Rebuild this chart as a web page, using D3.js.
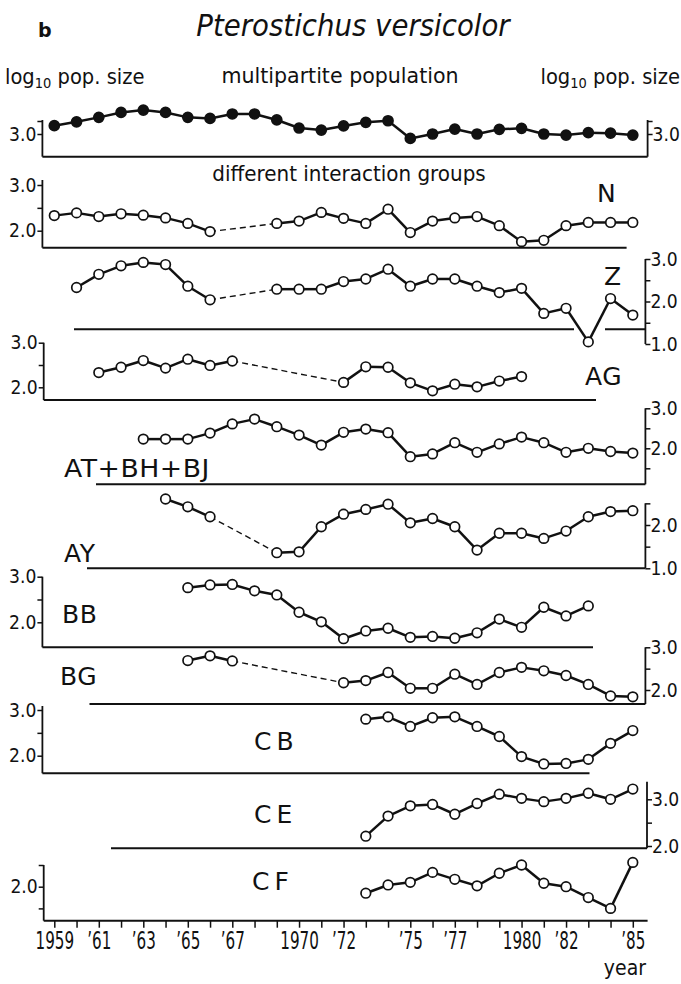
<!DOCTYPE html>
<html>
<head>
<meta charset="utf-8">
<script src="https://cdn.jsdelivr.net/npm/d3@7"></script>
<style>
  body { margin: 0; background: #fff; }
  svg { display: block; }
  text { font-family: "DejaVu Sans", sans-serif; fill: #111; }
</style>
</head>
<body>
<script>
// years on the x axis, one value per year (null = not sampled)
const years = [1959, 1960, 1961, 1962, 1963, 1964, 1965, 1966, 1967, 1968, 1969, 1970, 1971,
               1972, 1973, 1974, 1975, 1976, 1977, 1978, 1979, 1980, 1981, 1982, 1983, 1984, 1985];
const xLabelYears = [1959, 1961, 1963, 1965, 1967, 1970, 1972, 1975, 1977, 1980, 1982, 1985];
const xLabelTexts = ["1959", "\u201961", "\u201963", "\u201965", "\u201967", "1970", "\u201972",
                     "\u201975", "\u201977", "1980", "\u201982", "\u201985"];

const multipartite = [3.32, 3.47, 3.64, 3.83, 3.92, 3.83, 3.64, 3.60, 3.77, 3.77, 3.54, 3.23, 3.15,
                      3.31, 3.45, 3.51, 2.83, 3.00, 3.19, 3.00, 3.18, 3.22, 3.00, 2.96, 3.05, 3.03, 2.96];
const groupN  = [2.33, 2.39, 2.31, 2.37, 2.34, 2.28, 2.16, 1.98, null, null, 2.16, 2.21, 2.40,
                 2.27, 2.16, 2.47, 1.96, 2.21, 2.28, 2.31, 2.11, 1.76, 1.79, 2.11, 2.18, 2.18, 2.18];
const groupZ  = [null, 2.33, 2.64, 2.84, 2.92, 2.87, 2.36, 2.04, null, null, 2.29, 2.29, 2.29,
                 2.47, 2.53, 2.76, 2.36, 2.53, 2.53, 2.36, 2.21, 2.31, 1.72, 1.84, 1.05, 2.07, 1.68];
const groupAG = [null, null, 2.33, 2.45, 2.60, 2.43, 2.63, 2.49, 2.59, null, null, null, null,
                 2.11, 2.46, 2.45, 2.10, 1.92, 2.07, 2.01, 2.14, 2.24, null, null, null, null, null];
const groupAT = [null, null, null, null, 2.23, 2.23, 2.23, 2.38, 2.61, 2.73, 2.54, 2.33, 2.08,
                 2.40, 2.48, 2.39, 1.79, 1.86, 2.14, 1.90, 2.11, 2.28, 2.14, 1.90, 2.00, 1.92, 1.88];
const groupAY = [null, null, null, null, null, 2.60, 2.42, 2.19, null, null, 1.36, 1.38, 1.96,
                 2.25, 2.36, 2.48, 2.05, 2.15, 1.96, 1.42, 1.81, 1.81, 1.69, 1.86, 2.19, 2.31, 2.33];
const groupBB = [null, null, null, null, null, null, 2.76, 2.82, 2.83, 2.69, 2.60, 2.22, 2.01,
                 1.64, 1.81, 1.87, 1.67, 1.69, 1.65, 1.77, 2.07, 1.89, 2.33, 2.14, 2.36, null, null];
const groupBG = [null, null, null, null, null, null, 2.69, 2.80, 2.68, null, null, null, null,
                 2.17, 2.22, 2.41, 2.04, 2.04, 2.37, 2.13, 2.41, 2.53, 2.45, 2.34, 2.13, 1.86, 1.84];
const groupCB = [null, null, null, null, null, null, null, null, null, null, null, null, null,
                 null, 2.80, 2.85, 2.64, 2.83, 2.85, 2.64, 2.42, 1.98, 1.82, 1.83, 1.92, 2.27, 2.55];
const groupCE = [null, null, null, null, null, null, null, null, null, null, null, null, null,
                 null, 2.21, 2.64, 2.86, 2.89, 2.68, 2.91, 3.11, 3.02, 2.95, 3.02, 3.13, 3.00, 3.22];
const groupCF = [null, null, null, null, null, null, null, null, null, null, null, null, null,
                 null, 1.85, 2.04, 2.10, 2.33, 2.17, 2.02, 2.31, 2.50, 2.08, 2.00, 1.75, 1.50, 2.56];

const W = 681, H = 984;
const svg = d3.select("body").append("svg").attr("width", W).attr("height", H);

const x = d3.scaleLinear().domain([1959, 1985]).range([54.3, 632.8]);

// layout of each strip: y scale anchors, axis side, frame extents
const panels = [
  { name: "", values: multipartite, filled: true, side: "both", ax: 42.4, ax2: 647.6,
    dom: [3.0, 3.5], rng: [134, 121], ticks: [3.0, 3.5], labeled: [3.0],
    top: 120, bottom: 156.7, base: [[42.4, 647.6]] },
  { name: "N", values: groupN, side: "left", ax: 42.4, dom: [3.0, 2.0], rng: [185, 230.7],
    ticks: [2.0, 2.5, 3.0], labeled: [2.0, 3.0], top: 180, bottom: 247.7,
    base: [[42.4, 626.6]], lx: 597, ly: 202 },
  { name: "Z", values: groupZ, side: "right", ax: 645.4, dom: [3.0, 1.0], rng: [259, 344],
    ticks: [1.0, 1.5, 2.0, 2.5, 3.0], labeled: [1.0, 2.0, 3.0], top: 259, bottom: 344,
    base: [[74, 574], [605, 645.4]], baseY: 329.3, lx: 604, ly: 285 },
  { name: "AG", values: groupAG, side: "left", ax: 43.7, dom: [3.0, 2.0], rng: [342.7, 387.3],
    ticks: [2.0, 2.5, 3.0], labeled: [2.0, 3.0], top: 342.7, bottom: 400,
    base: [[43.7, 596]], lx: 585, ly: 385 },
  { name: "AT+BH+BJ", values: groupAT, side: "right", ax: 645.4, dom: [3.0, 2.0], rng: [408.3, 448.3],
    ticks: [1.5, 2.0, 2.5, 3.0], labeled: [2.0, 3.0], top: 408.3, bottom: 484.3,
    base: [[96, 645.4]], lx: 64, ly: 477, lw: 146 },
  { name: "AY", values: groupAY, side: "right", ax: 645.4, dom: [2.0, 1.0], rng: [525, 568.3],
    ticks: [1.0, 1.5, 2.0, 2.5], labeled: [1.0, 2.0], top: 503.3, bottom: 568.3,
    base: [[87, 645.4]], lx: 64, ly: 562 },
  { name: "BB", values: groupBB, side: "left", ax: 42.4, dom: [3.0, 2.0], rng: [576.7, 622.3],
    ticks: [2.0, 2.5, 3.0], labeled: [2.0, 3.0], top: 576.7, bottom: 647.3,
    base: [[42.4, 593]], lx: 62, ly: 623 },
  { name: "BG", values: groupBG, side: "right", ax: 645.4, dom: [3.0, 2.0], rng: [647.3, 690],
    ticks: [2.0, 2.5, 3.0], labeled: [2.0, 3.0], top: 647.3, bottom: 704,
    base: [[89.5, 645.4]], lx: 60, ly: 685 },
  { name: "CB", values: groupCB, side: "left", ax: 42.4, dom: [3.0, 2.0], rng: [710, 755.7],
    ticks: [2.0, 2.5, 3.0], labeled: [2.0, 3.0], top: 706, bottom: 773.3,
    base: [[42.4, 589.5]], lx: 254, ly: 750, ls: 5 },
  { name: "CE", values: groupCE, side: "right", ax: 647, dom: [3.0, 2.0], rng: [799.3, 846],
    ticks: [2.0, 2.5, 3.0], labeled: [2.0, 3.0], top: 781.7, bottom: 848.3,
    base: [[111, 647]], lx: 254, ly: 823, ls: 5 },
  { name: "CF", values: groupCF, side: "left", ax: 43.7, dom: [2.5, 2.0], rng: [865, 886.7],
    ticks: [1.5, 2.0, 2.5], labeled: [2.0], top: 865, bottom: 920.7,
    base: [[43.7, 647.6]], lx: 252, ly: 890, ls: 5 }
];

function label(px, py, str, size, sx, anchor) {
  return svg.append("text")
    .attr("transform", `translate(${px},${py}) scale(${sx},1)`)
    .attr("font-size", size)
    .attr("text-anchor", anchor || "start")
    .text(str);
}

function yAxis(p, y, side, axX) {
  const sx = 0.88;
  const axis = (side === "left" ? d3.axisLeft(y) : d3.axisRight(y))
    .tickValues(p.ticks)
    .tickSize(5)
    .tickSizeOuter(0)
    .tickFormat(d => p.labeled.includes(d) ? d.toFixed(1) : "");
  const g = svg.append("g").attr("transform", `translate(${axX},0)`).call(axis);
  g.select(".domain").remove();
  g.selectAll(".tick line").attr("stroke", "#111").attr("stroke-width", 1.5);
  g.selectAll(".tick text")
    .attr("font-size", 19.5)
    .attr("font-family", "DejaVu Sans, sans-serif")
    .attr("fill", "#111")
    .attr("x", (side === "left" ? -6 : 5) / sx)
    .attr("transform", `scale(${sx},1)`);
  // the vertical axis runs down to the frame line or the lowest tick
  svg.append("line")
    .attr("x1", axX).attr("x2", axX)
    .attr("y1", p.top).attr("y2", Math.max(p.bottom, y(p.ticks[0])))
    .attr("stroke", "#111").attr("stroke-width", 1.8);
}

panels.forEach(p => {
  const y = d3.scaleLinear().domain(p.dom).range(p.rng);

  if (p.side === "left" || p.side === "both") yAxis(p, y, "left", p.ax);
  if (p.side === "right") yAxis(p, y, "right", p.ax);
  if (p.side === "both") yAxis(p, y, "right", p.ax2);

  // frame line under the strip
  const by = p.baseY || p.bottom;
  p.base.forEach(seg => {
    svg.append("line")
      .attr("x1", seg[0]).attr("x2", seg[1])
      .attr("y1", by).attr("y2", by)
      .attr("stroke", "#111").attr("stroke-width", 2);
  });

  // series: solid between consecutive years, dashed across gaps
  const pts = years.map((yr, i) => ({ yr, v: p.values[i] })).filter(d => d.v !== null);
  const line = d3.line().x(d => x(d.yr)).y(d => y(d.v));
  for (let i = 1; i < pts.length; i++) {
    const gap = pts[i].yr - pts[i - 1].yr > 1;
    svg.append("path")
      .attr("d", line([pts[i - 1], pts[i]]))
      .attr("fill", "none")
      .attr("stroke", "#111")
      .attr("stroke-width", gap ? 1.4 : 2.5)
      .attr("stroke-dasharray", gap ? "6,4" : null);
  }
  svg.append("g").selectAll("circle").data(pts).join("circle")
    .attr("cx", d => x(d.yr))
    .attr("cy", d => y(d.v))
    .attr("r", p.filled ? 5 : 4.8)
    .attr("fill", p.filled ? "#111" : "#fff")
    .attr("stroke", "#111")
    .attr("stroke-width", 1.7);

  if (p.name) {
    const t = label(p.lx, p.ly, p.name, 25, 1, "start");
    t.attr("letter-spacing", p.ls || 0.5);
    if (p.lw) t.attr("transform", `translate(${p.lx},${p.ly})`)
      .attr("textLength", p.lw).attr("lengthAdjust", "spacingAndGlyphs");
  }
});

// year axis under the last strip
const xAxis = d3.axisBottom(x)
  .tickValues(years)
  .tickSize(7)
  .tickSizeOuter(0)
  .tickFormat(d => {
    const k = xLabelYears.indexOf(d);
    return k >= 0 ? xLabelTexts[k] : "";
  });
const xg = svg.append("g").attr("transform", "translate(0,920.7)").call(xAxis);
xg.select(".domain").remove();
xg.selectAll(".tick line").attr("stroke", "#111").attr("stroke-width", 1.5);
xg.selectAll(".tick text")
  .attr("font-size", 24.5)
  .attr("font-family", "DejaVu Sans, sans-serif")
  .attr("fill", "#111")
  .attr("y", 0)
  .attr("dy", 0)
  .attr("transform", "translate(0,28) scale(0.62,1)");

label(646, 975, "year", 21, 0.9, "end");

// headings
label(353, 36, "Pterostichus versicolor", 30, 0.92, "middle").attr("font-style", "italic");
label(38, 37, "b", 19, 1, "start").attr("font-weight", "bold");

function popLabel(px, anchor) {
  const t = svg.append("text")
    .attr("transform", `translate(${px},84) scale(0.93,1)`)
    .attr("font-size", 21)
    .attr("text-anchor", anchor);
  t.append("tspan").text("log");
  t.append("tspan").attr("font-size", 14).attr("dy", 4).text("10");
  t.append("tspan").attr("dy", -4).text(" pop. size");
}
popLabel(5, "start");
popLabel(680, "end");

label(340, 83, "multipartite  population", 21, 0.98, "middle");
label(349, 181, "different  interaction  groups", 21, 0.95, "middle");
</script>
</body>
</html>
